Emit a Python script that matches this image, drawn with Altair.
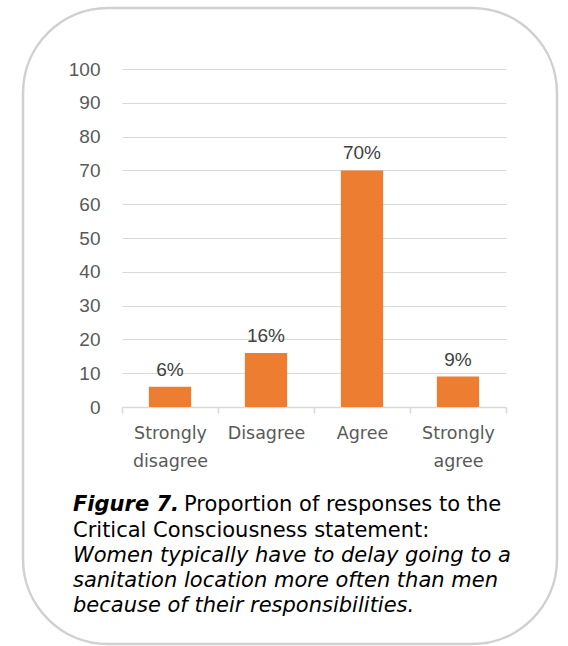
import altair as alt
import pandas as pd

# Survey responses (percent of respondents)
categories = ["Strongly disagree", "Disagree", "Agree", "Strongly agree"]
values = [6, 16, 70, 9]
value_labels = ["6%", "16%", "70%", "9%"]
y_ticks = [0, 10, 20, 30, 40, 50, 60, 70, 80, 90, 100]

caption_head = "Figure 7."
caption_first = "Proportion of responses to the"
caption_plain = ["Critical Consciousness statement:"]
caption_italic = [
    "Women typically have to delay going to a",
    "sanitation location more often than men",
    "because of their responsibilities.",
]

df = pd.DataFrame({"category": categories, "value": values, "label": value_labels})
one = pd.DataFrame({"k": [0]})

NUM_FONT = "Liberation Sans"
TXT_FONT = "DejaVu Sans"
BAR = "#ED7D31"
GREY = "#595959"
CAP = 21

x = alt.X(
    "category:N",
    sort=categories,
    scale=alt.Scale(paddingInner=0, paddingOuter=0),
    axis=alt.Axis(
        title=None,
        labelAngle=0,
        labelExpr="split(datum.label, ' ')",
        labelFont=TXT_FONT,
        labelFontSize=17.5,
        labelColor=GREY,
        labelLineHeight=28,
        labelPadding=11,
        tickBand="extent",
        tickSize=6,
        tickColor="#d9d9d9",
        tickWidth=1.5,
        domainColor="#d9d9d9",
        domainWidth=1.5,
        grid=False,
    ),
)
y = alt.Y(
    "value:Q",
    scale=alt.Scale(domain=[0, 100]),
    axis=alt.Axis(
        title=None,
        values=y_ticks,
        labelOverlap=False,
        labelFont=NUM_FONT,
        labelFontSize=19,
        labelColor=GREY,
        labelPadding=22,
        ticks=False,
        tickSize=0,
        domain=False,
        grid=True,
        gridColor="#d9d9d9",
        gridWidth=1.2,
    ),
)

bars = alt.Chart(df).mark_bar(color=BAR, width={"band": 0.44}).encode(x=x, y=y)

labels = alt.Chart(df).mark_text(
    font=NUM_FONT, fontSize=19, color="#404040", dy=-17, baseline="middle"
).encode(x=x, y=y, text="label:N")

frame = alt.Chart(one).mark_rect(
    cornerRadius=85, fillOpacity=0, stroke="#d0d0d0", strokeWidth=2.5
).encode(x=alt.value(-99), x2=alt.value(435), y=alt.value(-61), y2=alt.value(575))

cap_head = alt.Chart(one).mark_text(
    font=TXT_FONT, fontSize=CAP, fontWeight="bold", fontStyle="italic",
    color="black", align="left", baseline="middle",
).encode(x=alt.value(-49), y=alt.value(436), text=alt.value(caption_head))

cap_first = alt.Chart(one).mark_text(
    font=TXT_FONT, fontSize=CAP, color="black", align="left", baseline="middle",
).encode(x=alt.value(62), y=alt.value(436), text=alt.value(caption_first))

cap_plain = alt.Chart(one).mark_text(
    font=TXT_FONT, fontSize=CAP, color="black", align="left", baseline="middle",
).encode(x=alt.value(-49), y=alt.value(462), text=alt.value(caption_plain[0]))

cap_italic = alt.Chart(one).mark_text(
    font=TXT_FONT, fontSize=CAP, fontStyle="italic", color="black",
    align="left", baseline="middle", lineHeight=25,
).encode(x=alt.value(-49), y=alt.value(487), text=alt.value(caption_italic))

chart = (
    alt.layer(frame, bars, labels, cap_head, cap_first, cap_plain, cap_italic)
    .properties(
        width=384,
        height=338,
        autosize=alt.AutoSizeParams(type="none"),
        padding={"left": 122, "top": 69, "right": 62, "bottom": 239},
        background="white",
    )
    .configure_view(stroke=None)
)

chart.save("out.html", embed_options={"renderer": "svg", "actions": False})
